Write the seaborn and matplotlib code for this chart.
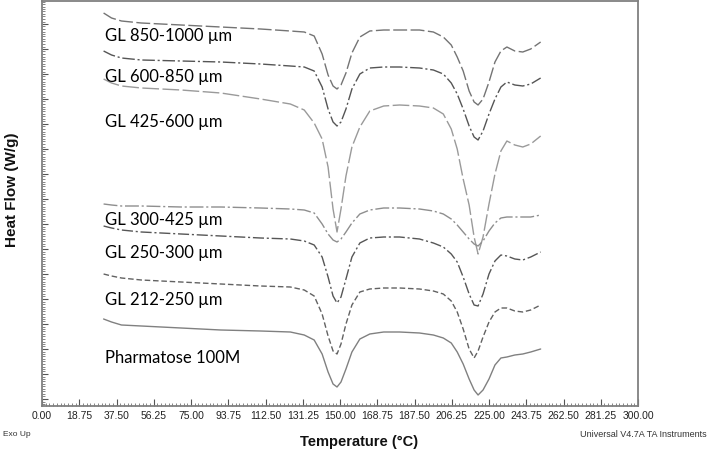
import numpy as np
import pandas as pd
import matplotlib
matplotlib.use("Agg")
import matplotlib.pyplot as plt
from matplotlib.ticker import MultipleLocator, FormatStrFormatter
import seaborn as sns

# temperatura comun para todas las curvas (°C)
temperatura = [31, 35, 40, 50, 70, 90, 110, 125, 132, 137, 141, 144, 146.5, 148.5,
               150.5, 153, 156, 160, 165, 172, 180, 190, 197, 202, 206, 209, 212,
               215, 217.5, 219.5, 222, 225, 228, 231, 234, 238, 242, 246, 251]

# flujo de calor (W/g, curvas desplazadas)
hf_850_1000 = [-0.14, -0.19, -0.22, -0.24, -0.26, -0.28, -0.30, -0.32, -0.33, -0.37,
               -0.55, -0.76, -0.87, -0.90, -0.86, -0.74, -0.54, -0.38, -0.32, -0.31,
               -0.31, -0.31, -0.33, -0.38, -0.46, -0.58, -0.72, -0.92, -1.03, -1.06,
               -1.00, -0.83, -0.63, -0.52, -0.48, -0.52, -0.53, -0.50, -0.43]
hf_600_850 = [-0.52, -0.56, -0.59, -0.61, -0.62, -0.63, -0.65, -0.67, -0.68, -0.72,
              -0.88, -1.10, -1.23, -1.27, -1.23, -1.10, -0.90, -0.75, -0.69, -0.68,
              -0.68, -0.69, -0.71, -0.75, -0.84, -0.95, -1.10, -1.27, -1.38, -1.41,
              -1.32, -1.15, -1.00, -0.88, -0.83, -0.86, -0.87, -0.85, -0.79]
hf_425_600 = [-0.80, -0.84, -0.87, -0.89, -0.91, -0.94, -1.00, -1.05, -1.11, -1.24,
              -1.40, -1.68, -2.10, -2.33, -2.10, -1.77, -1.48, -1.28, -1.12, -1.07,
              -1.06, -1.07, -1.09, -1.15, -1.30, -1.50, -1.80, -2.06, -2.38, -2.55,
              -2.38, -2.05, -1.75, -1.52, -1.42, -1.46, -1.48, -1.45, -1.37]
hf_300_425 = [-2.05, -2.06, -2.07, -2.07, -2.08, -2.08, -2.09, -2.10, -2.11, -2.14,
              -2.25, -2.35, -2.41, -2.43, -2.40, -2.33, -2.24, -2.15, -2.11, -2.09,
              -2.09, -2.10, -2.12, -2.15, -2.20, -2.26, -2.33, -2.40, -2.45, -2.47,
              -2.42, -2.32, -2.24, -2.19, -2.18, -2.18, -2.18, -2.18, -2.16]
hf_250_300 = [-2.27, -2.29, -2.31, -2.33, -2.35, -2.37, -2.39, -2.40, -2.42, -2.46,
              -2.58, -2.78, -2.97, -3.04, -2.98, -2.80, -2.58, -2.44, -2.39, -2.38,
              -2.38, -2.40, -2.44, -2.48, -2.55, -2.63, -2.78, -2.95, -3.06, -3.07,
              -2.95, -2.75, -2.62, -2.56, -2.57, -2.60, -2.61, -2.58, -2.53]
hf_212_250 = [-2.75, -2.77, -2.79, -2.81, -2.83, -2.85, -2.87, -2.88, -2.91, -2.97,
              -3.15, -3.37, -3.52, -3.55, -3.45, -3.25, -3.06, -2.93, -2.90, -2.89,
              -2.89, -2.90, -2.92, -2.95, -3.02, -3.13, -3.30, -3.50, -3.59, -3.52,
              -3.38, -3.23, -3.13, -3.09, -3.09, -3.12, -3.13, -3.11, -3.06]
hf_pharmatose = [-3.20, -3.23, -3.26, -3.27, -3.29, -3.31, -3.32, -3.33, -3.36, -3.41,
                 -3.55, -3.73, -3.85, -3.88, -3.83, -3.70, -3.53, -3.40, -3.35, -3.33,
                 -3.33, -3.34, -3.36, -3.39, -3.44, -3.53, -3.65, -3.80, -3.91, -3.96,
                 -3.91, -3.80, -3.66, -3.59, -3.58, -3.56, -3.55, -3.53, -3.50]

muestras = ['GL 850-1000 µm', 'GL 600-850 µm', 'GL 425-600 µm', 'GL 300-425 µm',
            'GL 250-300 µm', 'GL 212-250 µm', 'Pharmatose 100M']
series = [hf_850_1000, hf_600_850, hf_425_600, hf_300_425,
          hf_250_300, hf_212_250, hf_pharmatose]

# posicion vertical de cada etiqueta (W/g)
etiqueta_y = [-0.36, -0.77, -1.22, -2.20, -2.53, -3.00, -3.58]

colores = ['#747474', '#555555', '#9a9a9a', '#8e8e8e', '#565656', '#626262', '#808080']
guiones = [(10, 2.5), (9, 2, 1.5, 2), (12, 2.5), (10, 2, 1.5, 2),
           (8, 2, 1.5, 2), (4, 2), ""]

df = pd.concat([pd.DataFrame({'Temperatura': temperatura, 'Flujo': s, 'Muestra': m})
                for m, s in zip(muestras, series)], ignore_index=True)

sns.set_theme(style='white')
plt.rcParams['font.family'] = ['Liberation Sans', 'DejaVu Sans']

fig = plt.figure(figsize=(7.09, 4.56), dpi=100)
ax = fig.add_axes([42 / 709, 1 - 407 / 456, 596 / 709, 405 / 456])

sns.lineplot(data=df, x='Temperatura', y='Flujo', hue='Muestra', style='Muestra',
             palette=dict(zip(muestras, colores)), dashes=dict(zip(muestras, guiones)),
             estimator=None, sort=False, linewidth=1.0, legend=False, ax=ax)
for ln in ax.get_lines():
    ln.set_solid_joinstyle('round')
    ln.set_dash_joinstyle('round')

for m, yy in zip(muestras, etiqueta_y):
    ax.text(31.7, yy, m, fontsize=12, family=['Lato', 'DejaVu Sans'],
            ha='left', va='center', color='black')

ax.set_xlim(0, 300)
ax.set_ylim(-4.07, -0.02)
ax.set(xlabel='', ylabel='')

ax.xaxis.set_major_locator(MultipleLocator(18.75))
ax.xaxis.set_minor_locator(MultipleLocator(1.875))
ax.xaxis.set_major_formatter(FormatStrFormatter('%.2f'))
ax.yaxis.set_major_locator(MultipleLocator(0.25))
ax.yaxis.set_minor_locator(MultipleLocator(0.025))
ax.tick_params(axis='both', which='both', direction='in', color='#555555')
ax.tick_params(axis='x', which='major', length=5, width=0.8, pad=3,
               labelsize=7.5, labelcolor='#222222')
ax.tick_params(axis='x', which='minor', length=2.5, width=0.5)
ax.tick_params(axis='y', which='major', length=4, width=0.8, labelleft=False)
ax.tick_params(axis='y', which='minor', length=2, width=0.5)
ax.tick_params(axis='x', which='both', bottom=True)
ax.tick_params(axis='y', which='both', left=True)
for lab in ax.get_xticklabels():
    lab.set_family(['Liberation Sans Narrow', 'Liberation Sans'])

for sp in ax.spines.values():
    sp.set_color('#808080')
    sp.set_linewidth(1.3)
    sp.set_visible(True)

fig.text(12 / 709, 1 - 190 / 456, 'Heat Flow (W/g)', rotation=90, ha='center',
         va='center', fontsize=11, fontweight='bold', color='#111111')
fig.text(359 / 709, 1 - 442 / 456, 'Temperature (°C)', ha='center', va='center',
         fontsize=10.5, fontweight='bold', color='#111111')
fig.text(3 / 709, 1 - 435 / 456, 'Exo Up', ha='left', va='center', fontsize=6,
         color='#333333', family=['Liberation Sans Narrow', 'Liberation Sans'])
fig.text(707 / 709, 1 - 435 / 456, 'Universal V4.7A TA Instruments', ha='right',
         va='center', fontsize=6.5, color='#333333',
         family=['Liberation Sans Narrow', 'Liberation Sans'])

fig.savefig('out.png', dpi=100, facecolor='white')
